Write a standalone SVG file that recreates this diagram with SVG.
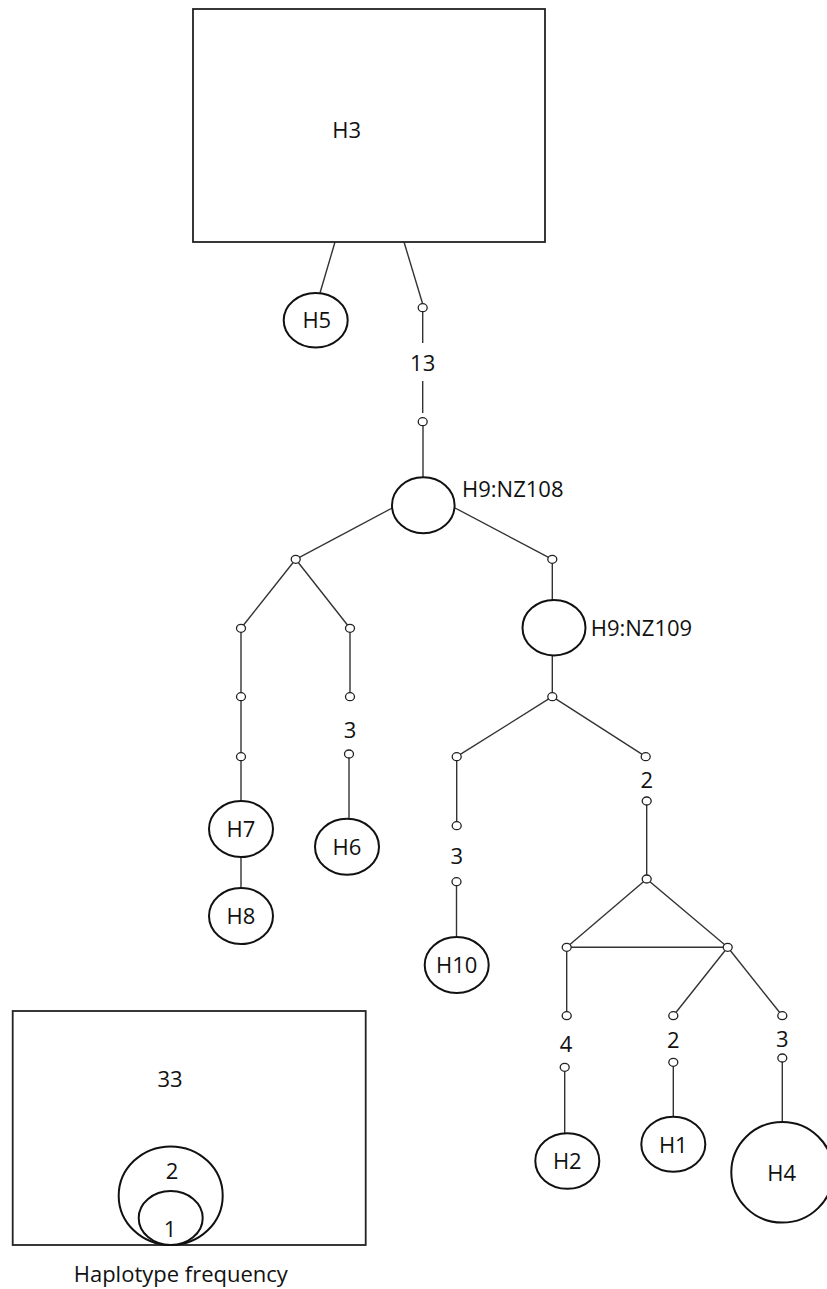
<svg xmlns="http://www.w3.org/2000/svg" width="827" height="1289" viewBox="0 0 827 1289">
<style>
.box{fill:#fff;stroke:#222;stroke-width:1.8}
.hap{fill:#fff;stroke:#111;stroke-width:2}
.mv{fill:#fff;stroke:#222;stroke-width:1.3}
.ln{stroke:#333;stroke-width:1.4;fill:none}
text{font-family:"Open Sans","Liberation Sans",sans-serif;font-size:22px;fill:#111}
.c{text-anchor:middle}
</style>
<rect width="827" height="1289" fill="#fff"/>
<g id="connectors">
<line class="ln" x1="335" y1="242" x2="320" y2="293"/>
<line class="ln" x1="404" y1="242" x2="422.7" y2="304"/>
<line class="ln" x1="422.7" y1="311" x2="422.7" y2="343"/>
<line class="ln" x1="422.7" y1="381" x2="422.7" y2="413"/>
<line class="ln" x1="423" y1="425" x2="423" y2="477"/>
<line class="ln" x1="392.3" y1="508" x2="295.7" y2="559.3"/>
<line class="ln" x1="455" y1="508" x2="552.3" y2="559.3"/>
<line class="ln" x1="295.7" y1="559.3" x2="241" y2="628.3"/>
<line class="ln" x1="295.7" y1="559.3" x2="350" y2="628.3"/>
<line class="ln" x1="241" y1="628.3" x2="241" y2="801"/>
<line class="ln" x1="241" y1="857" x2="241" y2="888"/>
<line class="ln" x1="350" y1="628.3" x2="350" y2="696.7"/>
<line class="ln" x1="349" y1="754" x2="349" y2="819"/>
<line class="ln" x1="552.3" y1="559.3" x2="552.3" y2="600"/>
<line class="ln" x1="552.3" y1="655.5" x2="552.3" y2="696.7"/>
<line class="ln" x1="552.3" y1="696.7" x2="456.7" y2="756.7"/>
<line class="ln" x1="552.3" y1="696.7" x2="645.7" y2="756.7"/>
<line class="ln" x1="456.7" y1="756.7" x2="456.7" y2="825.7"/>
<line class="ln" x1="456.5" y1="881.7" x2="456.5" y2="937"/>
<line class="ln" x1="646.7" y1="801" x2="646.7" y2="879"/>
<line class="ln" x1="646.7" y1="879" x2="566.7" y2="947.3"/>
<line class="ln" x1="646.7" y1="879" x2="727.7" y2="947.3"/>
<line class="ln" x1="566.7" y1="947.3" x2="727.7" y2="947.3"/>
<line class="ln" x1="566.7" y1="947.3" x2="566.7" y2="1015.7"/>
<line class="ln" x1="727.7" y1="947.3" x2="673.3" y2="1015.7"/>
<line class="ln" x1="727.7" y1="947.3" x2="782.3" y2="1015.7"/>
<line class="ln" x1="564.7" y1="1067.3" x2="564.7" y2="1133"/>
<line class="ln" x1="673.3" y1="1062.3" x2="673.3" y2="1117"/>
<line class="ln" x1="782.3" y1="1058" x2="782.3" y2="1122"/>
</g>
<g id="mv">
<ellipse class="mv" cx="422.7" cy="307.7" rx="4.5" ry="4"/>
<ellipse class="mv" cx="422.7" cy="421.7" rx="4.5" ry="4"/>
<ellipse class="mv" cx="295.7" cy="559.3" rx="4.5" ry="4"/>
<ellipse class="mv" cx="552.3" cy="559.3" rx="4.5" ry="4"/>
<ellipse class="mv" cx="241" cy="628.3" rx="4.5" ry="4"/>
<ellipse class="mv" cx="350" cy="628.3" rx="4.5" ry="4"/>
<ellipse class="mv" cx="241" cy="696.7" rx="4.5" ry="4"/>
<ellipse class="mv" cx="241" cy="756.7" rx="4.5" ry="4"/>
<ellipse class="mv" cx="350" cy="696.7" rx="4.5" ry="4"/>
<ellipse class="mv" cx="349" cy="754" rx="4.5" ry="4"/>
<ellipse class="mv" cx="552.3" cy="696.7" rx="4.5" ry="4"/>
<ellipse class="mv" cx="456.7" cy="756.7" rx="4.5" ry="4"/>
<ellipse class="mv" cx="645.7" cy="756.7" rx="4.5" ry="4"/>
<ellipse class="mv" cx="456.7" cy="825.7" rx="4.5" ry="4"/>
<ellipse class="mv" cx="456.5" cy="881.7" rx="4.5" ry="4"/>
<ellipse class="mv" cx="646.7" cy="801" rx="4.5" ry="4"/>
<ellipse class="mv" cx="646.7" cy="879" rx="4.5" ry="4"/>
<ellipse class="mv" cx="566.7" cy="947.3" rx="4.5" ry="4"/>
<ellipse class="mv" cx="727.7" cy="947.3" rx="4.5" ry="4"/>
<ellipse class="mv" cx="566.7" cy="1015.7" rx="4.5" ry="4"/>
<ellipse class="mv" cx="673.3" cy="1015.7" rx="4.5" ry="4"/>
<ellipse class="mv" cx="782.3" cy="1015.7" rx="4.5" ry="4"/>
<ellipse class="mv" cx="564.7" cy="1067.3" rx="4.5" ry="4"/>
<ellipse class="mv" cx="673.3" cy="1062.3" rx="4.5" ry="4"/>
<ellipse class="mv" cx="782.3" cy="1058" rx="4.5" ry="4"/>
</g>
<g id="steps">
<text class="c" x="422.7" y="371">13</text>
<text class="c" x="350" y="737.5">3</text>
<text class="c" x="456.7" y="863.5">3</text>
<text class="c" x="646.7" y="788">2</text>
<text class="c" x="566" y="1052">4</text>
<text class="c" x="673.3" y="1047.5">2</text>
<text class="c" x="782.3" y="1047">3</text>
</g>
<g id="H3"><rect class="box" x="193" y="9" width="352" height="233"/><text class="c" x="346.7" y="138">H3</text></g>
<g id="H5"><ellipse class="hap" cx="315.7" cy="320.3" rx="32" ry="27.3"/><text class="c" x="316.8" y="328">H5</text></g>
<g id="H9_NZ108"><ellipse class="hap" cx="423.3" cy="505.3" rx="31.3" ry="28"/><text x="462" y="496.5">H9:NZ108</text></g>
<g id="H9_NZ109"><ellipse class="hap" cx="554" cy="627.7" rx="31.5" ry="27.8"/><text x="590.7" y="636">H9:NZ109</text></g>
<g id="H7"><ellipse class="hap" cx="241" cy="829" rx="32" ry="28"/><text class="c" x="241" y="837">H7</text></g>
<g id="H8"><ellipse class="hap" cx="241" cy="916" rx="32" ry="28"/><text class="c" x="241" y="924">H8</text></g>
<g id="H6"><ellipse class="hap" cx="347" cy="846.7" rx="32" ry="28"/><text class="c" x="347" y="855">H6</text></g>
<g id="H10"><ellipse class="hap" cx="456.7" cy="965" rx="32" ry="28"/><text class="c" x="456.7" y="973">H10</text></g>
<g id="H2"><ellipse class="hap" cx="567.3" cy="1161" rx="32" ry="27.8"/><text class="c" x="567.3" y="1169">H2</text></g>
<g id="H1"><ellipse class="hap" cx="673.3" cy="1144.3" rx="32" ry="27.5"/><text class="c" x="673.3" y="1153">H1</text></g>
<g id="H4"><ellipse class="hap" cx="782.3" cy="1172.3" rx="51" ry="50.3"/><text class="c" x="781.7" y="1180.5">H4</text></g>
<g id="legend">
<rect class="box" x="12.7" y="1011" width="353" height="234"/>
<text class="c" x="170" y="1087">33</text>
<ellipse class="hap" cx="170.7" cy="1195.7" rx="52" ry="49.3"/>
<text class="c" x="172" y="1179">2</text>
<ellipse class="hap" cx="170.7" cy="1218" rx="32" ry="27"/>
<text class="c" x="170" y="1236.5">1</text>
<text class="c" x="180.8" y="1281.5">Haplotype frequency</text>
</g>
</svg>
